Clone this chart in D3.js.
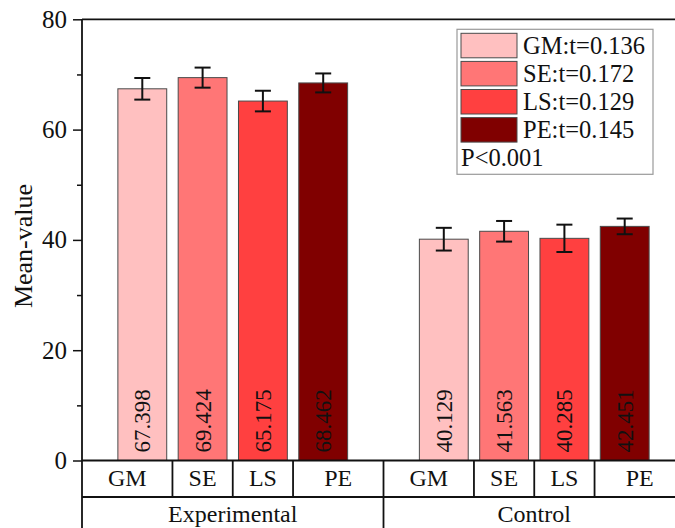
<!DOCTYPE html>
<html>
<head>
<meta charset="utf-8">
<script src="https://cdn.jsdelivr.net/npm/d3@7"></script>
<style>
html,body{margin:0;padding:0;background:#fff;}
svg{display:block;}
text{font-family:"Liberation Serif","Times New Roman",serif;fill:#111;}
</style>
</head>
<body>
<svg id="chart" width="675" height="528"></svg>
<script>
const groups = ["Experimental", "Control"];
const categories = ["GM", "SE", "LS", "PE"];
const expValues = [67.398, 69.424, 65.175, 68.462];
const expErrors = [1.96, 1.82, 1.87, 1.72];
const ctrlValues = [40.129, 41.563, 40.285, 42.451];
const ctrlErrors = [2.06, 1.87, 2.48, 1.42];
const legendLabels = ["GM:t=0.136", "SE:t=0.172", "LS:t=0.129", "PE:t=0.145"];
const pNote = "P<0.001";
const yTicks = [0, 20, 40, 60, 80];
const yMinorTicks = [10, 30, 50, 70];
const yTitle = "Mean-value";
const colors = ["#FFC0C0", "#FF7676", "#FF4040", "#800000"];

(function () {
const svg = d3.select("#chart");
const plotLeft = 82, plotRight = 685, plotTop = 19.3, zeroY = 460.5;
const row1Bottom = 497, tableBottom = 540;

const seriesByGroup = [
  {group: groups[0], values: expValues, errors: expErrors},
  {group: groups[1], values: ctrlValues, errors: ctrlErrors}
];
const nPerGroup = categories.length;
const slotsPerGroup = nPerGroup + 1;
const bars = [];
seriesByGroup.forEach((g, gi) => {
  g.values.forEach((v, i) => {
    bars.push({group: g.group, cat: categories[i], ci: i, value: v, err: g.errors[i], pos: gi * slotsPerGroup + i});
  });
});

const x = d3.scaleLinear().domain([-1, groups.length * slotsPerGroup - 1]).range([plotLeft, plotRight]);
const y = d3.scaleLinear().domain([0, 80]).range([zeroY, plotTop]);
const slotW = x(1) - x(0);
const barW = slotW * 0.81;

// bars
svg.append("g").selectAll("rect").data(bars).join("rect")
  .attr("x", d => x(d.pos) - barW / 2)
  .attr("y", d => y(d.value))
  .attr("width", barW)
  .attr("height", d => y(0) - y(d.value))
  .attr("fill", d => colors[d.ci])
  .attr("stroke", "#4a4a4a")
  .attr("stroke-width", 1);

// error bars
const eg = svg.append("g").attr("stroke", "#111").attr("stroke-width", 2);
const capW = 16;
bars.forEach(d => {
  const cx = x(d.pos);
  eg.append("line").attr("x1", cx).attr("x2", cx).attr("y1", y(d.value + d.err)).attr("y2", y(d.value - d.err));
  eg.append("line").attr("x1", cx - capW / 2).attr("x2", cx + capW / 2).attr("y1", y(d.value + d.err)).attr("y2", y(d.value + d.err));
  eg.append("line").attr("x1", cx - capW / 2).attr("x2", cx + capW / 2).attr("y1", y(d.value - d.err)).attr("y2", y(d.value - d.err));
});

// value labels
svg.append("g").selectAll("text").data(bars).join("text")
  .attr("transform", d => `translate(${x(d.pos)},${y(0) - 8}) rotate(-90)`)
  .attr("dy", "0.35em")
  .attr("text-anchor", "start")
  .style("font-size", "23px")
  .text(d => d.value.toFixed(3));

// y axis
const yAxis = d3.axisLeft(y).tickValues(yTicks).tickSize(9).tickPadding(6).tickFormat(d3.format("d"));
const ya = svg.append("g").attr("transform", `translate(${plotLeft},0)`).call(yAxis);
ya.select(".domain").remove();
ya.selectAll(".tick line").attr("stroke", "#111").attr("stroke-width", 1.5);
ya.selectAll(".tick text").style("font-size", "25px").attr("fill", "#111").style("font-family", '"Liberation Serif",serif');
const yMinor = d3.axisLeft(y).tickValues(yMinorTicks).tickSize(5).tickFormat("");
const ym = svg.append("g").attr("transform", `translate(${plotLeft},0)`).call(yMinor);
ym.select(".domain").remove();
ym.selectAll(".tick line").attr("stroke", "#111").attr("stroke-width", 1.5);

// frame lines
const fg = svg.append("g").attr("stroke", "#111").attr("stroke-width", 1.8).attr("fill", "none");
fg.append("line").attr("x1", plotLeft).attr("x2", plotLeft).attr("y1", plotTop).attr("y2", tableBottom);
fg.append("line").attr("x1", plotLeft).attr("x2", plotRight).attr("y1", plotTop).attr("y2", plotTop);
fg.append("line").attr("x1", plotLeft).attr("x2", plotRight).attr("y1", zeroY).attr("y2", zeroY);
fg.append("line").attr("x1", plotLeft).attr("x2", plotRight).attr("y1", row1Bottom).attr("y2", row1Bottom);
fg.append("line").attr("x1", plotRight).attr("x2", plotRight).attr("y1", plotTop).attr("y2", tableBottom);

// table dividers
groups.forEach((g, gi) => {
  for (let i = 0; i < nPerGroup - 1; i++) {
    const xv = x(gi * slotsPerGroup + i + 0.5);
    fg.append("line").attr("x1", xv).attr("x2", xv).attr("y1", zeroY).attr("y2", row1Bottom);
  }
  if (gi < groups.length - 1) {
    const xv = x(gi * slotsPerGroup + nPerGroup);
    fg.append("line").attr("x1", xv).attr("x2", xv).attr("y1", zeroY).attr("y2", tableBottom);
  }
});

// table texts: categories
const cellBounds = [];
groups.forEach((g, gi) => {
  categories.forEach((c, i) => {
    const p = gi * slotsPerGroup + i;
    const l = i === 0 ? gi * slotsPerGroup - 1 : p - 0.5;
    const r = i === nPerGroup - 1 ? gi * slotsPerGroup + nPerGroup : p + 0.5;
    cellBounds.push({label: c, cx: (x(l) + x(r)) / 2});
  });
});
svg.append("g").selectAll("text").data(cellBounds).join("text")
  .attr("x", d => d.cx).attr("y", 486)
  .attr("text-anchor", "middle")
  .style("font-size", "24px")
  .text(d => d.label);

svg.append("g").selectAll("text").data(groups).join("text")
  .attr("x", (d, gi) => (x(gi * slotsPerGroup - 1) + x(gi * slotsPerGroup + nPerGroup)) / 2)
  .attr("y", 522)
  .attr("text-anchor", "middle")
  .style("font-size", "24px")
  .text(d => d);

// y title
svg.append("text")
  .attr("transform", `translate(32,246) rotate(-90)`)
  .attr("text-anchor", "middle")
  .style("font-size", "26px")
  .text(yTitle);

// legend
const lg = svg.append("g");
lg.append("rect").attr("x", 457).attr("y", 29.3).attr("width", 196).attr("height", 145)
  .attr("fill", "#fff").attr("stroke", "#9a9a9a").attr("stroke-width", 1.2);
legendLabels.forEach((t, i) => {
  const ry = 33.3 + i * 28.1;
  lg.append("rect").attr("x", 461).attr("y", ry).attr("width", 56).attr("height", 24.5)
    .attr("fill", colors[i]).attr("stroke", "#4a4a4a").attr("stroke-width", 1);
  lg.append("text").attr("x", 523).attr("y", ry + 20.5).style("font-size", "24.5px").text(t);
});
lg.append("text").attr("x", 461).attr("y", 166).style("font-size", "24.5px").text(pNote);
})();
</script>
</body>
</html>
